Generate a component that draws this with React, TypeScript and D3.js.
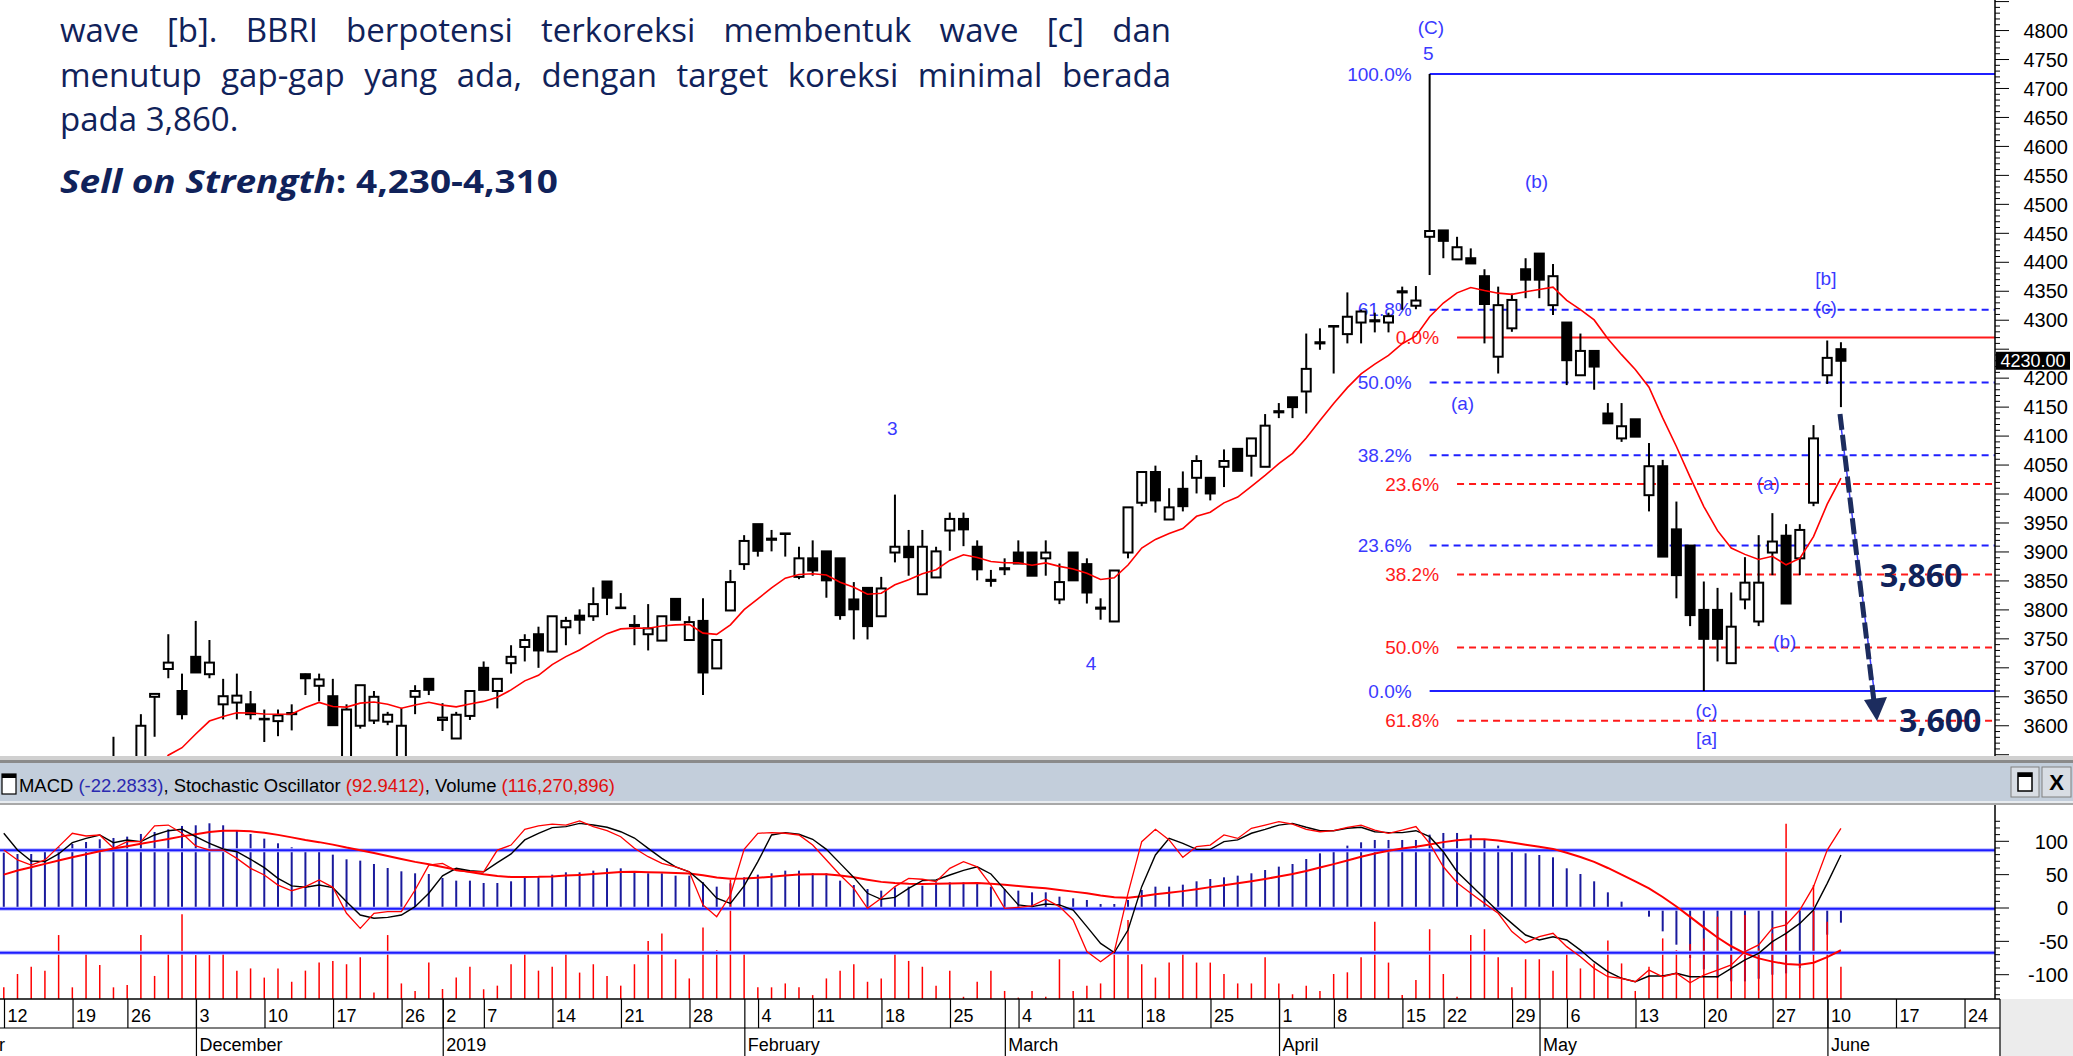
import React, { useMemo } from "react";
import * as d3 from "d3";

const W = 2073;
const H = 1056;

// ---------- daily candles, index -1 .. 133 (index 0 = 12 Nov 2018, 133 = 10 Jun 2019)
const firstIndex = -1;
const opens = [3300,3320,3350,3330,3380,3440,3450,3470,3500,3530,3520,3650,3698,3660,3719,3689,3637,3640,3637,3611,3608,3620,3689,3669,3651,3520,3600,3609,3607,3520,3650,3681,3610,3578,3617,3700,3660,3708,3736,3758,3728,3770,3790,3789,3849,3803,3772,3758,3747,3819,3748,3781,3699,3799,3879,3948,3921,3932,3857,3889,3901,3889,3818,3838,3789,3899,3909,3827,3856,3937,3957,3909,3850,3870,3899,3899,3889,3818,3899,3879,3802,3780,3899,3985,4038,3956,4009,4028,4028,4047,4078,4066,4047,4141,4167,4177,4260,4289,4276,4296,4298,4296,4348,4325,4444,4455,4405,4407,4376,4237,4286,4388,4415,4326,4296,4205,4247,4139,4096,4129,3998,4048,3939,3911,3800,3800,3708,3818,3780,3899,3928,3889,3985,4205,4250];
const highs = [3340,3360,3370,3390,3450,3470,3490,3500,3581,3540,3620,3656,3758,3690,3781,3748,3681,3690,3660,3628,3628,3637,3690,3690,3681,3637,3670,3660,3624,3631,3670,3681,3639,3624,3660,3711,3681,3739,3758,3771,3789,3788,3801,3839,3849,3829,3791,3810,3789,3819,3789,3820,3748,3869,3929,3948,3938,3932,3909,3920,3901,3889,3848,3838,3857,3999,3938,3938,3909,3968,3968,3920,3869,3889,3920,3899,3920,3880,3899,3889,3820,3868,3977,4038,4049,4010,4039,4067,4028,4077,4078,4096,4138,4157,4167,4277,4286,4290,4348,4318,4313,4313,4358,4359,4725,4455,4444,4424,4388,4358,4346,4407,4415,4397,4296,4277,4247,4157,4157,4129,4088,4059,3987,3911,3849,3838,3830,3891,3929,3967,3948,3948,4119,4265,4262];
const lows = [3290,3310,3320,3320,3370,3420,3440,3450,3480,3490,3510,3581,3682,3611,3692,3682,3611,3611,3611,3572,3582,3592,3653,3642,3601,3510,3595,3603,3601,3510,3620,3653,3591,3578,3610,3662,3630,3690,3711,3700,3728,3739,3758,3781,3791,3803,3739,3730,3747,3783,3748,3653,3699,3799,3869,3892,3901,3892,3853,3859,3821,3783,3749,3749,3789,3882,3859,3827,3856,3902,3910,3851,3840,3860,3880,3859,3859,3810,3851,3811,3783,3780,3889,3979,3968,3956,3970,4001,3989,4012,4040,4030,4047,4131,4131,4139,4249,4208,4260,4260,4279,4279,4318,4319,4378,4407,4405,4398,4260,4208,4280,4338,4338,4309,4188,4205,4180,4122,4090,4099,3970,3892,3820,3772,3660,3711,3708,3801,3772,3860,3811,3860,3979,4190,4150];
const closes = [3320,3350,3330,3380,3440,3450,3470,3480,3530,3520,3600,3655,3709,3620,3692,3709,3651,3652,3620,3612,3618,3622,3682,3680,3601,3628,3670,3650,3619,3600,3660,3662,3614,3619,3660,3662,3681,3719,3748,3730,3789,3781,3783,3810,3821,3804,3774,3768,3789,3783,3779,3692,3748,3848,3919,3902,3923,3931,3889,3868,3851,3791,3801,3772,3837,3909,3891,3909,3901,3957,3939,3870,3852,3872,3880,3859,3899,3848,3851,3830,3804,3868,3977,4038,3989,3977,3979,4057,4001,4057,4040,4096,4118,4143,4150,4216,4262,4290,4306,4315,4300,4307,4350,4334,4454,4437,4426,4398,4328,4326,4335,4370,4370,4376,4231,4247,4220,4122,4117,4099,4048,3892,3860,3791,3750,3750,3771,3847,3847,3918,3811,3938,4096,4235,4230];

// volume in millions of shares
const volumes = [42,90,116,102,230,42,164,122,42,50,230,83,164,305,158,158,164,102,110,77,110,62,102,131,137,125,150,23,230,56,29,131,36,77,
  116,35,48,125,170,102,116,170,95,125,83,48,125,209,236,143,74,257,176,428,164,42,42,56,42,14,74,102,125,62,74,164,137,116,
  48,102,8,62,102,29,5,29,8,143,29,48,56,170,284,125,77,131,170,131,131,90,56,56,150,56,17,48,29,90,96,150,278,131,
  14,68,251,90,8,230,251,150,42,143,143,102,170,110,128,210,128,29,116,218,176,198,218,296,164,302,182,236,630,128,410,278,116];

// MACD values (blue bars)
const macdValues = [83,81,81,86,91,96,99,103,105,107,111,114,118,123,124,127,124,116,111,104,97,91,86,86,80,73,71,66,60,55,52,51,45,41,
  41,37.5,37.5,40,47,47,50,53.5,53.5,56,59.5,59.5,55,52,52,48.5,48.5,38.5,32,37,46,50,52,56,56,52,52,41,34.5,28.5,26,31,32,33.5,
  38.5,38.5,38.5,38.5,32,28.5,26,23.5,23.5,17,14.5,12,6,6,12,27,32,32,35,40,43.5,46,48.5,52,57,62,66,73.5,82,86,93.5,98.5,102,102,
  102,102,110,112.5,112.5,110,102,93.5,86,82,79.5,76,59.5,51,40,23.5,9.5,0,-13,-35,-55,-75,-92,-105,-110,-110,-106,-100,-98,-90,-70,-40,-22];

// Stochastic oscillator (fast = red, slow = black)
const stochFast = [80.1,74.3,71.3,74.3,82.1,89.9,88.3,88.9,81.1,85.0,85.0,94.2,94.7,89.9,82.5,80.1,80.1,75.2,69.4,65.5,59.6,56.3,58.7,62.6,58.3,43.1,34.3,43.1,44.1,44.1,56.7,71.3,72.3,68.0,
  67.4,67.4,80.1,83.0,92.2,94.2,95.3,94.7,97.1,93.8,91.4,87.9,81.1,76.2,72.3,70.3,67.4,48.0,41.1,53.8,80.5,89.9,90.3,89.9,88.9,83.0,74.3,65.5,57.7,46.0,51.9,58.7,63.5,63.0,
  61.6,69.4,73.3,70.3,59.6,46.0,46.6,47.4,51.3,47.0,39.2,20.7,14.8,20.7,54.8,85.0,92.2,86.0,75.8,82.1,83.0,88.9,86.9,92.8,94.7,96.7,95.3,92.2,90.8,91.4,93.4,94.7,91.8,89.9,
  91.8,93.8,84.0,70.3,61.0,54.8,48.9,43.1,32.4,25.9,29.4,31.4,23.6,17.7,10.9,6.0,5.1,3.1,9.9,6.0,8.0,2.5,7.0,9.9,12.9,20.7,24.6,34.3,36.3,45.0,58.7,80.1,92.8];
const stochSlow = [89.9,80.1,73.7,73.3,77.8,84.4,86.9,88.9,84.4,86.0,85.0,88.9,91.4,92.2,87.9,84.0,80.7,79.1,74.7,69.8,63.5,59.1,58.3,59.6,58.1,49.9,42.1,40.2,40.7,42.1,47.0,54.8,65.0,69.4,
  68.0,67.4,72.7,77.8,86.0,89.9,93.2,93.8,95.7,94.7,93.4,90.8,87.1,81.1,75.2,70.3,67.4,60.6,51.9,48.9,59.1,73.3,88.9,90.3,89.3,86.4,80.5,72.3,64.1,54.8,51.3,52.4,57.7,62.2,
  62.6,65.5,68.2,70.3,66.1,57.1,48.0,47.0,48.5,48.0,45.0,35.3,25.5,20.1,33.3,58.7,77.2,86.9,84.0,80.5,80.5,85.0,86.0,89.9,92.2,94.7,95.7,93.4,91.4,91.4,92.8,93.4,90.8,90.3,
  90.3,91.4,87.9,79.1,67.4,59.6,51.9,44.1,37.2,30.4,27.5,29.4,27.5,21.6,14.8,9.0,5.1,3.1,6.4,6.4,8.0,6.0,6.0,6.0,10.9,15.8,19.7,26.5,31.4,37.2,45.0,60.6,77.2];

const maSeed = 3400; // moving average level before the first visible bar
const maPeriod = 10;
const signalStart = 50; // MACD signal at the first bar
const signalPeriod = 9;

// ---------- axis labels
const priceTicks = d3.range(3600, 4801, 50);
const lastPrice = 4230;
const oscTicks = [100, 50, 0, -50, -100];
const weekTickIdx = [0,5,9,14,19,24,29,32,35,40,45,50,55,59,64,69,74,78,83,88,93,97,102,105,110,114,119,124,129,133,138,143];
const weekLabels = ["12","19","26","3","10","17","26","2","7","14","21","28","4","11","18","25","4","11","18","25","1","8","15","22","29","6","13","20","27","10","17","24"];
const monthTickIdx = [14,32,54,73,93,112,133];
const monthLabels = ["December","2019","February","March","April","May","June"];

// ---------- Fibonacci drawings
const blueFibHigh = 4725, blueFibLow = 3660, blueFibStart = 103;
const blueFibLevels = [100, 61.8, 50, 38.2, 23.6, 0];
const redFibTop = 4270, redFibBottom = 3200, redFibStart = 105;
const redFibLevels = [0, 23.6, 38.2, 50, 61.8];

// wave labels: [text, bar index, price]
const waveLabels: [string, number, number][] = [
  ["(C)", 103.1, 4806], ["5", 102.9, 4761], ["(b)", 110.8, 4539], ["(a)", 105.4, 4157],
  ["3", 63.8, 4114], ["4", 78.3, 3708], ["(a)", 127.7, 4019], ["(b)", 128.9, 3745],
  ["(c)", 123.2, 3627], ["[a]", 123.2, 3579], ["[b]", 131.9, 4373], ["(c)", 131.9, 4323],
];

const paraLines = [
  "wave [b]. BBRI berpotensi terkoreksi membentuk wave [c] dan",
  "menutup gap-gap yang ada, dengan target koreksi minimal berada",
  "pada 3,860.",
];

const NAVY = "#10225a";
const FIB_BLUE = "#1f1fff";
const LABEL_BLUE = "#3a3aff";
const RED = "#ff1a1a";

function ema(values: number[], seed: number, period: number) {
  const k = 2 / (period + 1);
  let prev = seed;
  return values.map((v) => (prev = prev + k * (v - prev)));
}

function measure(words: string[], font: string) {
  const c = document.createElement("canvas").getContext("2d")!;
  c.font = font;
  return words.map((w) => c.measureText(w).width);
}

export default function App() {
  const idx = d3.range(firstIndex, firstIndex + closes.length);
  const x = d3.scaleLinear().domain([0, 133]).range([17.5, 17.5 + 133 * 13.71]);
  const y = d3.scaleLinear().domain([blueFibLow, blueFibHigh]).range([691, 74]);
  const macdY = d3.scaleLinear().domain([-100, 100]).range([974.7, 841.3]);
  const stochY = d3.scaleLinear().domain([0, 100]).range([987, 816]);
  const volY = d3.scaleLinear().domain([0, 600]).range([999, 832.2]);

  const axisX = 1995;
  const mainBottom = 756;
  const lowTop = 805, lowBottom = 999;

  const ma = useMemo(() => ema(closes, maSeed, maPeriod), []);
  const signal = useMemo(() => [signalStart, ...ema(macdValues.slice(1), signalStart, signalPeriod)], []);

  const lineGen = (vals: number[], ys: (v: number) => number) =>
    d3.line<number>().x((_, i) => x(idx[i])).y((v) => ys(v))(vals) || "";

  const font = "33px 'Open Sans'";
  const justified = useMemo(() => {
    return paraLines.map((line, li) => {
      const words = line.split(" ");
      const ws = measure(words, font);
      const total = ws.reduce((a, b) => a + b, 0);
      const space = measure([" "], font)[0];
      const gap = li < 2 ? (1171 - 60 - total) / (words.length - 1) : space;
      let cx = 60;
      return words.map((w, i) => {
        const r = { w, x: cx };
        cx += ws[i] + gap;
        return r;
      });
    });
  }, []);
  const baselines = [42, 87, 131];

  const priceMinor = d3.range(3550, 4860, 10);
  const oscMinor = d3.range(-130, 140, 10);
  // price labels hidden behind the last-price box are not drawn
  const visiblePriceTicks = priceTicks.filter((p) => Math.abs(y(p) - y(lastPrice)) > 14);

  return (
    <svg width={W} height={H} style={{ position: "absolute", left: 0, top: 0, background: "#fff" }}
      fontFamily="'Liberation Sans', Arial, sans-serif">
      <defs>
        <clipPath id="mainClip"><rect x={0} y={0} width={axisX} height={mainBottom} /></clipPath>
        <clipPath id="lowClip"><rect x={0} y={lowTop} width={axisX} height={lowBottom - lowTop} /></clipPath>
      </defs>
      <rect x={0} y={0} width={W} height={H} fill="#fff" />

      {/* ---------- main price panel ---------- */}
      <g clipPath="url(#mainClip)">
        {blueFibLevels.map((p) => {
          const price = blueFibLow + (p / 100) * (blueFibHigh - blueFibLow);
          const solid = p === 100 || p === 0;
          return (
            <g key={"bf" + p}>
              <line x1={x(blueFibStart)} x2={axisX} y1={y(price)} y2={y(price)} stroke={FIB_BLUE}
                strokeWidth={2} strokeDasharray={solid ? undefined : "7,5"} />
              <text x={x(blueFibStart) - 18} y={y(price)} dy="0.35em" textAnchor="end" fontSize={19} fill={LABEL_BLUE}>
                {p.toFixed(1) + "%"}
              </text>
            </g>
          );
        })}
        {redFibLevels.map((p) => {
          const price = redFibTop - (p / 100) * (redFibTop - redFibBottom);
          const solid = p === 0;
          return (
            <g key={"rf" + p}>
              <line x1={x(redFibStart)} x2={axisX} y1={y(price)} y2={y(price)} stroke={RED}
                strokeWidth={2} strokeDasharray={solid ? undefined : "7,5"} />
              <text x={x(redFibStart) - 18} y={y(price)} dy="0.35em" textAnchor="end" fontSize={19} fill={RED}>
                {p.toFixed(1) + "%"}
              </text>
            </g>
          );
        })}

        {idx.map((d, i) => {
          const o = opens[i], c = closes[i];
          const cx = x(d);
          const top = y(Math.max(o, c));
          const bot = y(Math.min(o, c));
          const up = c >= o;
          return (
            <g key={"c" + d}>
              <line x1={cx} x2={cx} y1={y(highs[i])} y2={y(lows[i])} stroke="#000" strokeWidth={2} />
              <rect x={cx - 4.5} y={top} width={9} height={Math.max(0.5, bot - top)}
                fill={up ? "#fff" : "#000"} stroke="#000" strokeWidth={2} />
            </g>
          );
        })}

        <path d={lineGen(ma, y)} fill="none" stroke="#ff0000" strokeWidth={1.6} />

        {waveLabels.map(([t, bi, p], k) => (
          <text key={"w" + k} x={x(bi)} y={y(p)} dy="0.35em" textAnchor="middle" fontSize={19} fill={LABEL_BLUE}>{t}</text>
        ))}

        {/* projection arrow */}
        <line x1={1840} y1={418} x2={1877} y2={714} stroke="#3b3bff" strokeWidth={1.5} />
        <line x1={1840} y1={414} x2={1874} y2={702} stroke="#1c2c5e" strokeWidth={5} strokeDasharray="16,5" />
        <polygon points="1864,700 1887,697 1877,721" fill="#1c2c5e" />
      </g>

      {/* paragraph overlay */}
      {justified.map((ln, li) =>
        ln.map((wd, wi) => (
          <text key={"p" + li + "-" + wi} x={wd.x} y={baselines[li]} fontFamily="'Open Sans'" fontSize={33} fill={NAVY}>{wd.w}</text>
        ))
      )}
      <text x={60} y={193} fontFamily="'Open Sans'" fontSize={33} fontWeight={700} fill={NAVY}
        textLength={498} lengthAdjust="spacingAndGlyphs">
        <tspan fontStyle="italic">Sell on Strength</tspan>
        <tspan>: 4,230-4,310</tspan>
      </text>
      <text x={1880} y={y(3860)} dy="0.36em" fontFamily="'Open Sans'" fontWeight={700} fontSize={32} fill={NAVY}>3,860</text>
      <text x={1899} y={y(3609)} dy="0.36em" fontFamily="'Open Sans'" fontWeight={700} fontSize={32} fill={NAVY}>3,600</text>

      {/* price axis */}
      <line x1={axisX} x2={axisX} y1={0} y2={mainBottom} stroke="#000" strokeWidth={1.5} />
      {priceMinor.map((p) => (
        <line key={"pm" + p} x1={axisX} x2={axisX + (p % 50 === 0 ? 14 : 5)} y1={y(p)} y2={y(p)} stroke="#000" strokeWidth={1} />
      ))}
      {visiblePriceTicks.map((p) => (
        <text key={"pt" + p} x={2068} y={y(p)} dy="0.36em" textAnchor="end" fontSize={20} fill="#000">{p}</text>
      ))}
      <rect x={axisX + 1} y={y(lastPrice) - 9} width={74} height={18} fill="#000" />
      <text x={axisX + 38} y={y(lastPrice)} dy="0.36em" textAnchor="middle" fontSize={18} fill="#fff">{lastPrice.toFixed(2)}</text>

      {/* ---------- panel separator and header ---------- */}
      <rect x={0} y={mainBottom} width={W} height={4} fill="#d0d0d0" />
      <rect x={0} y={760} width={W} height={3} fill="#8a8a8a" />
      <rect x={0} y={763} width={W} height={38} fill="#c3cedb" />
      <rect x={0} y={801} width={W} height={2} fill="#e8ecf0" />
      <rect x={0} y={803} width={W} height={2} fill="#a8a8a8" />
      <rect x={2} y={774} width={14} height={20} fill="#fff" stroke="#000" strokeWidth={1.2} />
      <rect x={2} y={774} width={14} height={4} fill="#000" />
      <text x={19} y={786} dy="0.35em" fontSize={18} textLength={596} lengthAdjust="spacingAndGlyphs">
        <tspan fill="#000">MACD </tspan>
        <tspan fill="#2a2ab0">(-22.2833)</tspan>
        <tspan fill="#000">, Stochastic Oscillator </tspan>
        <tspan fill="#e01010">(92.9412)</tspan>
        <tspan fill="#000">, Volume </tspan>
        <tspan fill="#e01010">(116,270,896)</tspan>
      </text>
      <g>
        <rect x={2011} y={767} width={28} height={30} fill="#d8dde4" stroke="#808080" />
        <rect x={2018} y={773} width={14} height={18} fill="#fff" stroke="#000" strokeWidth={1.5} />
        <rect x={2018} y={773} width={14} height={4} fill="#000" />
        <rect x={2042} y={767} width={29} height={30} fill="#d8dde4" stroke="#808080" />
        <text x={2056.5} y={782} dy="0.36em" textAnchor="middle" fontSize={22} fontWeight={700}>X</text>
      </g>

      {/* ---------- lower indicator panel ---------- */}
      <g clipPath="url(#lowClip)">
        {idx.map((d, i) => (
          <line key={"m" + d} x1={x(d)} x2={x(d)} y1={macdY(0)} y2={macdY(macdValues[i])} stroke="#1a1a9c" strokeWidth={2} />
        ))}
        {idx.map((d, i) => (
          <line key={"v" + d} x1={x(d)} x2={x(d)} y1={lowBottom} y2={volY(volumes[i])} stroke="#ff0000" strokeWidth={1.5} />
        ))}
        {[stochY(80), macdY(0) + 0.7, stochY(20)].map((yy, k) => (
          <g key={"hl" + k}>
            <line x1={0} x2={axisX} y1={yy} y2={yy} stroke="#b8b8ff" strokeWidth={4} />
            <line x1={0} x2={axisX} y1={yy} y2={yy} stroke="#1c1cff" strokeWidth={2} />
          </g>
        ))}
        <path d={lineGen(signal, macdY)} fill="none" stroke="#ff0000" strokeWidth={2} />
        <path d={lineGen(stochSlow, stochY)} fill="none" stroke="#000" strokeWidth={1.4} />
        <path d={lineGen(stochFast, stochY)} fill="none" stroke="#ff0000" strokeWidth={1.3} />
      </g>
      <line x1={axisX} x2={axisX} y1={lowTop} y2={lowBottom} stroke="#000" strokeWidth={1.5} />
      {oscMinor.filter((v) => macdY(v) > lowTop + 2 && macdY(v) < lowBottom - 2).map((v) => (
        <line key={"om" + v} x1={axisX} x2={axisX + (v % 50 === 0 ? 14 : 5)} y1={macdY(v)} y2={macdY(v)} stroke="#000" />
      ))}
      {oscTicks.map((v) => (
        <text key={"ot" + v} x={2068} y={macdY(v)} dy="0.36em" textAnchor="end" fontSize={20}>{v}</text>
      ))}

      {/* ---------- date axis ---------- */}
      <line x1={0} x2={axisX + 5} y1={lowBottom} y2={lowBottom} stroke="#000" strokeWidth={1.5} />
      <line x1={0} x2={axisX + 5} y1={1028} y2={1028} stroke="#000" strokeWidth={1.2} />
      <rect x={axisX + 5} y={lowBottom} width={W - axisX - 5} height={H - lowBottom} fill="#ececec" />
      <line x1={axisX + 5} x2={axisX + 5} y1={lowBottom} y2={H} stroke="#000" strokeWidth={1.2} />
      {weekTickIdx.map((t, k) => (
        <g key={"wk" + k}>
          <line x1={x(t) - 13} x2={x(t) - 13} y1={lowBottom} y2={1028} stroke="#000" strokeWidth={1.2} />
          <text x={x(t) - 10} y={1022} fontSize={18}>{weekLabels[k]}</text>
        </g>
      ))}
      {monthTickIdx.map((t, k) => (
        <g key={"mo" + k}>
          <line x1={x(t) - 13} x2={x(t) - 13} y1={lowBottom} y2={H} stroke="#000" strokeWidth={1.2} />
          <text x={x(t) - 10} y={1051} fontSize={18}>{monthLabels[k]}</text>
        </g>
      ))}
      <text x={5} y={1051} fontSize={18} textAnchor="end">November</text>
    </svg>
  );
}
